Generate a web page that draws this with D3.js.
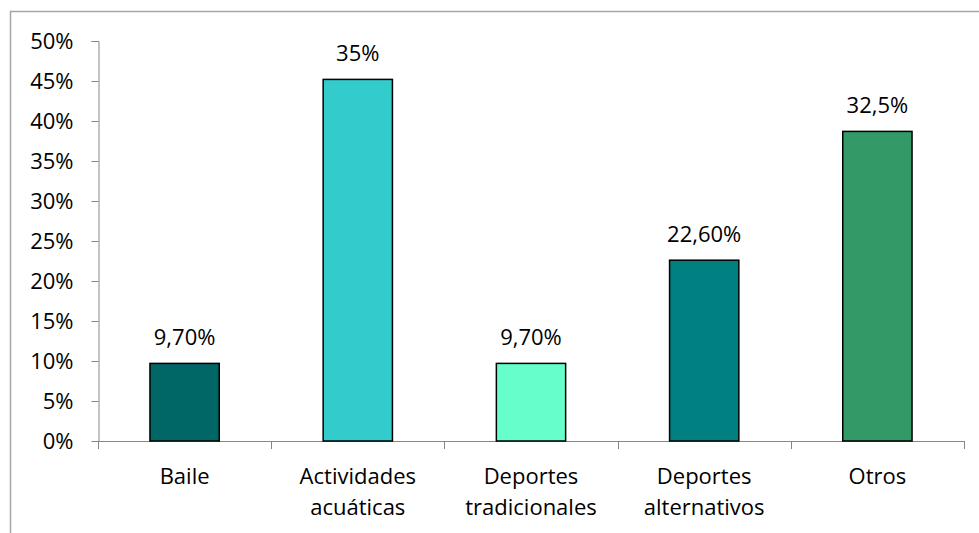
<!DOCTYPE html>
<html><head><meta charset="utf-8">
<script src="https://cdn.jsdelivr.net/npm/d3@7"></script>
<style>body{margin:0;background:#fff}svg{display:block}</style>
</head><body>
<script>
const categories = [["Baile"], ["Actividades", "acuáticas"], ["Deportes", "tradicionales"], ["Deportes", "alternativos"], ["Otros"]];
const values = [9.7, 45.2, 9.7, 22.6, 38.7];
const labels = ["9,70%", "35%", "9,70%", "22,60%", "32,5%"];
const colors = ["#006666", "#33CCCC", "#66FFCC", "#008080", "#339966"];
const yTicks = [0, 5, 10, 15, 20, 25, 30, 35, 40, 45, 50];

const W = 979, H = 533;
const svg = d3.select("body").append("svg").attr("width", W).attr("height", H);
const font = "'Open Sans', sans-serif";

svg.append("rect").attr("x", 10.5).attr("y", 11.5).attr("width", 990).attr("height", 540)
  .attr("fill", "none").attr("stroke", "#a6a6a6").attr("stroke-width", 1.5);

const x = d3.scaleBand().domain(d3.range(categories.length)).range([98, 964]).paddingInner(0.6).paddingOuter(0.3);
const y = d3.scaleLinear().domain([0, 50]).range([441, 41]);

// y axis
const yAxis = svg.append("g").attr("transform", "translate(98.5,0)")
  .call(d3.axisLeft(y).tickValues(yTicks).tickSize(7).tickPadding(18).tickFormat(d => d + "%"));
yAxis.select(".domain").attr("stroke", "#868686").attr("d", "M-7,41.5H0.5V441.5");
yAxis.selectAll(".tick line").attr("stroke", "#868686");
yAxis.selectAll(".tick text").attr("font-family", font).attr("font-size", 22).attr("fill", "#000");

// x axis line and ticks
const step = x.step();
const xStart = 98.5;
svg.append("line").attr("x1", xStart).attr("x2", 964).attr("y1", 441.5).attr("y2", 441.5).attr("stroke", "#868686");
const bounds = d3.range(categories.length + 1).map(i => x(0) - x.paddingOuter() * step + i * step);
svg.selectAll(".xt").data(bounds).join("line")
  .attr("x1", d => Math.round(d) + 0.5).attr("x2", d => Math.round(d) + 0.5)
  .attr("y1", 441).attr("y2", 449).attr("stroke", "#868686");

// bars
svg.selectAll(".bar").data(values).join("rect")
  .attr("x", (d, i) => x(i)).attr("width", x.bandwidth())
  .attr("y", d => y(d)).attr("height", d => y(0) - y(d))
  .attr("fill", (d, i) => colors[i]).attr("stroke", "#000").attr("stroke-width", 1.5);

// value labels
svg.selectAll(".vl").data(values).join("text")
  .attr("x", (d, i) => x(i) + x.bandwidth() / 2).attr("y", d => y(d) - 18)
  .attr("text-anchor", "middle").attr("font-family", font).attr("font-size", 22).attr("fill", "#000")
  .text((d, i) => labels[i]);

// category labels
const cl = svg.selectAll(".cl").data(categories).join("text")
  .attr("text-anchor", "middle").attr("font-family", font).attr("font-size", 22).attr("fill", "#000");
cl.each(function(lines, i) {
  d3.select(this).selectAll("tspan").data(lines).join("tspan")
    .attr("x", x(i) + x.bandwidth() / 2).attr("y", (l, j) => 484 + j * 31).text(l => l);
});
</script>
</body></html>
